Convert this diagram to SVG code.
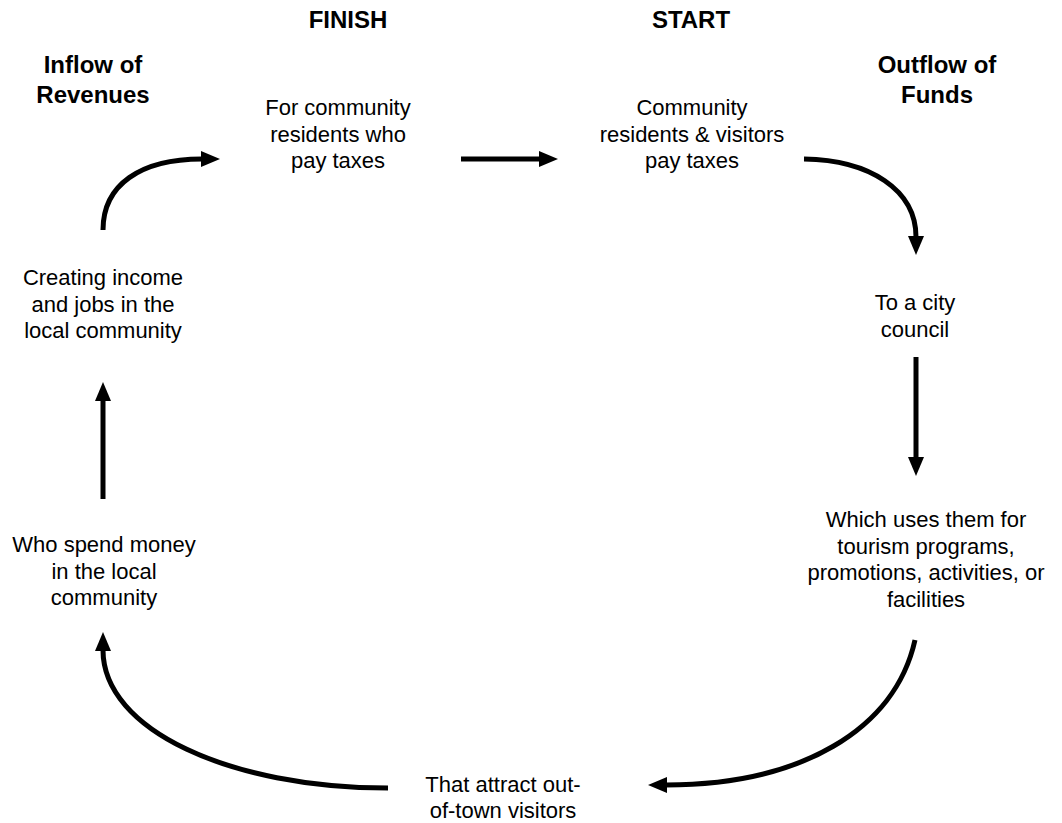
<svg xmlns="http://www.w3.org/2000/svg" width="1062" height="823" viewBox="0 0 1062 823">
<style>
text{font-family:"Liberation Sans",Arial,sans-serif;fill:#000;text-anchor:middle}
.r{font-size:22px}
.b{font-size:24px;font-weight:bold}
.c{fill:none;stroke:#000;stroke-width:5;marker-end:url(#ah)}
</style>
<defs>
<marker id="ah" markerWidth="19" markerHeight="16" refX="1" refY="8" orient="auto" markerUnits="userSpaceOnUse">
<path d="M0,0 L19,8 L0,16 z" fill="#000"/>
</marker>
</defs>
<rect width="1062" height="823" fill="#fff"/>
<g id="title-finish"><text class="b" x="348" y="28">FINISH</text></g>
<g id="title-start"><text class="b" x="691" y="28">START</text></g>
<g id="title-inflow"><text class="b" x="93" y="73">Inflow of</text><text class="b" x="93" y="103">Revenues</text></g>
<g id="title-outflow"><text class="b" x="937" y="73">Outflow of</text><text class="b" x="937" y="103">Funds</text></g>
<g id="node-finish"><text class="r" x="338" y="115">For community</text><text class="r" x="338" y="141.5">residents who</text><text class="r" x="338" y="168">pay taxes</text></g>
<g id="node-start"><text class="r" x="692" y="115">Community</text><text class="r" x="692" y="141.5">residents &amp; visitors</text><text class="r" x="692" y="168">pay taxes</text></g>
<g id="node-council"><text class="r" x="915" y="310">To a city</text><text class="r" x="915" y="336.5">council</text></g>
<g id="node-uses"><text class="r" x="926" y="527">Which uses them for</text><text class="r" x="926" y="553.5">tourism programs,</text><text class="r" x="926" y="580">promotions, activities, or</text><text class="r" x="926" y="606.5">facilities</text></g>
<g id="node-attract"><text class="r" x="503" y="792">That attract out-</text><text class="r" x="503" y="818">of-town visitors</text></g>
<g id="node-spend"><text class="r" x="104" y="552">Who spend money</text><text class="r" x="104" y="578.5">in the local</text><text class="r" x="104" y="605">community</text></g>
<g id="node-income"><text class="r" x="103" y="285">Creating income</text><text class="r" x="103" y="311.5">and jobs in the</text><text class="r" x="103" y="338">local community</text></g>
<g id="connectors">
<path class="c" d="M461,159 L540,159"/>
<path class="c" d="M804,159 C870,160 916,190 916,237"/>
<path class="c" d="M916,357 L916,458"/>
<path class="c" d="M915,640 C895,730 800,785 666,785"/>
<path class="c" d="M388,788 C230,788 103,730 103,650"/>
<path class="c" d="M103,499 L103,400"/>
<path class="c" d="M103,230 C103,185 140,159 202,159"/>
</g>
</svg>
